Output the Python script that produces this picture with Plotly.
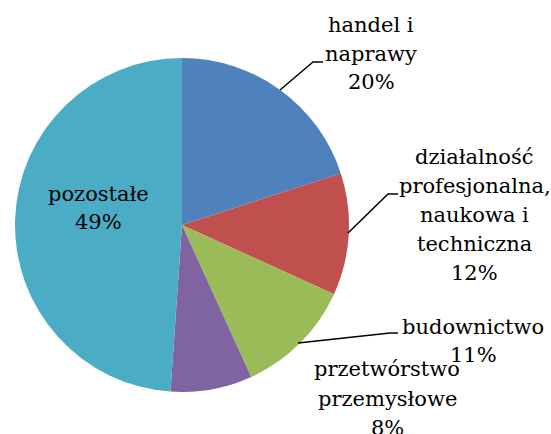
import plotly.graph_objects as go

# ---- data ----
categories = ["handel i naprawy", "działalność profesjonalna, naukowa i techniczna",
              "budownictwo", "przetwórstwo przemysłowe", "pozostałe"]
label_lines = [["handel i", "naprawy"],
               ["działalność", "profesjonalna,", "naukowa i", "techniczna"],
               ["budownictwo"],
               ["przetwórstwo", "przemysłowe"],
               ["pozostałe"]]
values = [20.0, 11.8, 11.4, 7.9, 48.9]
colors = ["#4F81BD", "#C0504D", "#9BBB59", "#8064A2", "#4BACC6"]

W, H = 551, 434


def px(x):
    return x / W


def py(y):
    return 1 - y / H


# pie geometry (pixels)
cx, cy, r = 182, 225, 167

fig = go.Figure()
fig.add_trace(go.Pie(
    labels=categories, values=values, sort=False, direction="clockwise", rotation=0,
    marker=dict(colors=colors, line=dict(width=0)),
    textinfo="none", hoverinfo="skip", showlegend=False,
    domain=dict(x=[px(cx - r), px(cx + r)], y=[py(cy + r), py(cy - r)]),
))

total = sum(values)
# label placement: (center x, first baseline y, line spacing)
placements = [(371, 33, 28.7), (475, 165, 29), (473, 335, 28), (387, 377, 29.5), (98, 202, 28)]
leaders = [[(280, 90), (313, 62), (323, 62)],
           [(348, 233), (388, 194), (398, 194)],
           [(298, 343), (390, 333), (398, 333)],
           None, None]

FONT = dict(family="DejaVu Serif", size=21, color="black")
annotations = []
shapes = []
for i, v in enumerate(values):
    lines = label_lines[i] + [f"{round(v / total * 100)}%"]
    x0, b0, sp = placements[i]
    for j, t in enumerate(lines):
        annotations.append(dict(
            x=px(x0), y=py(b0 + j * sp - 8), xref="paper", yref="paper",
            text=t, showarrow=False, xanchor="center", yanchor="middle", font=FONT,
        ))
    if leaders[i]:
        pts = leaders[i]
        path = "M " + " L ".join(f"{px(a)},{py(b)}" for a, b in pts)
        shapes.append(dict(type="path", path=path, xref="paper", yref="paper",
                           line=dict(color="black", width=1.5)))

fig.update_layout(
    width=W, height=H, margin=dict(l=0, r=0, t=0, b=0),
    paper_bgcolor="white", plot_bgcolor="white",
    annotations=annotations, shapes=shapes, showlegend=False,
)
fig.write_html("out.html", config={"displayModeBar": False},
               post_script="document.body.style.margin='0';document.body.style.padding='0';")
